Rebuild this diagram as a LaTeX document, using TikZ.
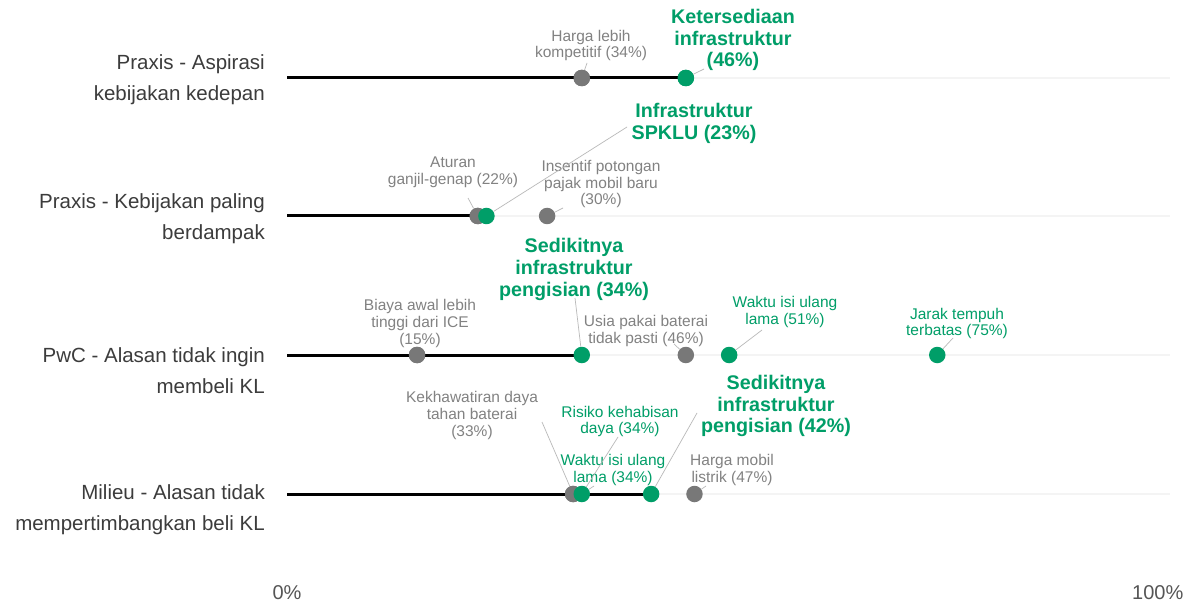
\documentclass[tikz,border=0pt]{standalone}
\usepackage{fontspec}
\setmainfont{Liberation Sans}
\definecolor{grn}{RGB}{0,158,104}
\definecolor{dotgray}{RGB}{120,120,120}
\definecolor{lblgray}{RGB}{130,130,130}
\definecolor{rowtxt}{RGB}{60,60,60}
\definecolor{axtxt}{RGB}{85,85,85}
\begin{document}
\begin{tikzpicture}[x=1pt,y=-1pt,
  rowlabel/.style={anchor=east, align=right, text=rowtxt, font=\fontsize{20.5}{31}\selectfont, inner sep=0pt},
  axlabel/.style={text=axtxt, font=\fontsize{20}{24}\selectfont, inner sep=0pt},
  glabel/.style={align=center, text=lblgray, font=\fontsize{15.5}{16.8}\selectfont, inner sep=0pt},
  gnlabel/.style={glabel, text=grn},
  bglabel/.style={align=center, text=grn, font=\fontsize{19.7}{21.8}\selectfont\bfseries, inner sep=0pt},
  gdot/.style={circle, fill=dotgray, minimum size=16.5pt, inner sep=0pt},
  ndot/.style={circle, fill=grn, minimum size=16.5pt, inner sep=0pt},
  leader/.style={draw=gray!55, line width=0.7pt},
  track/.style={draw=gray!9, line width=2pt},
  bar/.style={draw=black, line width=3pt}]
\useasboundingbox (0,0) rectangle (1189,604);
\fill[white] (0,0) rectangle (1189,604);

% row start / end coordinates
\coordinate (s1) at (287,78);  \coordinate (e1) at (1170,78);
\coordinate (s2) at (287,216); \coordinate (e2) at (1170,216);
\coordinate (s3) at (287,355); \coordinate (e3) at (1170,355);
\coordinate (s4) at (287,494); \coordinate (e4) at (1170,494);

% faint tracks
\draw[track] (s1) -- (e1);
\draw[track] (s2) -- (e2);
\draw[track] (s3) -- (e3);
\draw[track] (s4) -- (e4);

% dots (positions x = 287 + 8.67 * percent)
\node[gdot] (d1a) at ({287+8.67*34},78) {};
\node[ndot] (d1b) at ({287+8.67*46},78) {};

\node[gdot] (d2a) at ({287+8.67*22},216) {};
\node[gdot] (d2c) at ({287+8.67*30},216) {};

\node[gdot] (d3a) at ({287+8.67*15},355) {};
\node[gdot] (d3c) at ({287+8.67*46},355) {};
\node[ndot] (d3d) at ({287+8.67*51},355) {};
\node[ndot] (d3e) at ({287+8.67*75},355) {};

\node[gdot] (d4a) at ({287+8.67*33},494) {};
\node[gdot] (d4e) at ({287+8.67*47},494) {};

% black bars up to the highlighted item
\draw[bar] (s1) -- (d1b.center);
\draw[bar] (s2) -- ({287+8.67*23},216);
\draw[bar] (s3) -- ({287+8.67*34},355);
\draw[bar] (s4) -- ({287+8.67*42},494);

% dots drawn over the bars
\node[gdot] at (d1a) {};
\node[ndot] at (d1b) {};
\node[gdot] at (d2a) {};
\node[ndot] (d2b) at ({287+8.67*23},216) {};
\node[gdot] at (d3a) {};
\node[ndot] (d3b) at ({287+8.67*34},355) {};
\node[gdot] at (d4a) {};
\node[ndot] (d4b) at ({287+8.67*34},494) {};
\node[ndot] (d4c) at ({287+8.67*42},494) {};

% row labels
\node[rowlabel] (r1) at (265,80) {Praxis - Aspirasi\\kebijakan kedepan};
\node[rowlabel] (r2) at (265,219) {Praxis - Kebijakan paling\\berdampak};
\node[rowlabel] (r3) at (265,371) {PwC - Alasan tidak ingin\\membeli KL};
\node[rowlabel] (r4) at (265,510) {Milieu - Alasan tidak\\mempertimbangkan beli KL};

% axis labels
\node[axlabel] (x0) at (287,593) {0\%};
\node[axlabel, anchor=west] (x100) at (1132,593) {100\%};

% row 1 labels
\node[glabel] (l1a) at (591,45.5) {Harga lebih\\kompetitif (34\%)};
\node[bglabel] (l1b) at (733,40) {Ketersediaan\\infrastruktur\\(46\%)};
\coordinate (c1a) at (587,63);
\coordinate (c1b) at (704,69);
\draw[leader] (c1a) -- (d1a);
\draw[leader] (c1b) -- (d1b);

% row 2 labels
\node[bglabel] (l2b) at (694,123.5) {Infrastruktur\\SPKLU (23\%)};
\node[glabel] (l2a) at (453,172.5) {Aturan\\ganjil-genap (22\%)};
\node[glabel] (l2c) at (601,184) {Insentif potongan\\pajak mobil baru\\(30\%)};
\coordinate (c2b) at (627,127);
\coordinate (c2a) at (468,198);
\coordinate (c2c) at (563,208);
\draw[leader] (c2b) -- (d2b);
\draw[leader] (c2a) -- (d2a);
\draw[leader] (c2c) -- (d2c);

% row 3 labels
\node[bglabel] (l3b) at (574,269.5) {Sedikitnya\\infrastruktur\\pengisian (34\%)};
\node[glabel] (l3a) at (420,323.5) {Biaya awal lebih\\tinggi dari ICE\\(15\%)};
\node[glabel] (l3c) at (646,331) {Usia pakai baterai\\tidak pasti (46\%)};
\node[gnlabel] (l3d) at (785,312) {Waktu isi ulang\\lama (51\%)};
\node[gnlabel] (l3e) at (957,323.5) {Jarak tempuh\\terbatas (75\%)};
\coordinate (c3b) at (575,298);
\coordinate (c3c) at (674,344);
\coordinate (c3d) at (762,330);
\coordinate (c3e) at (953,338);
\draw[leader] (c3b) -- (d3b);
\draw[leader] (c3c) -- (d3c);
\draw[leader] (c3d) -- (d3d);
\draw[leader] (c3e) -- (d3e);

% row 4 labels
\node[glabel] (l4a) at (472,415.5) {Kekhawatiran daya\\tahan baterai\\(33\%)};
\node[gnlabel] (l4b) at (620,421.5) {Risiko kehabisan\\daya (34\%)};
\node[gnlabel] (l4w) at (613,470) {Waktu isi ulang\\lama (34\%)};
\node[bglabel] (l4c) at (776,406) {Sedikitnya\\infrastruktur\\pengisian (42\%)};
\node[glabel] (l4e) at (732,470) {Harga mobil\\listrik (47\%)};
\coordinate (c4a) at (542,422);
\coordinate (c4b) at (618,437);
\coordinate (c4w) at (594,486);
\coordinate (c4c) at (697,413);
\coordinate (c4e) at (706,486);
\draw[leader] (c4a) -- (d4a);
\draw[leader] (c4b) -- (d4b);
\draw[leader] (c4w) -- (d4b);
\draw[leader] (c4c) -- (d4c);
\draw[leader] (c4e) -- (d4e);
\end{tikzpicture}
\end{document}
